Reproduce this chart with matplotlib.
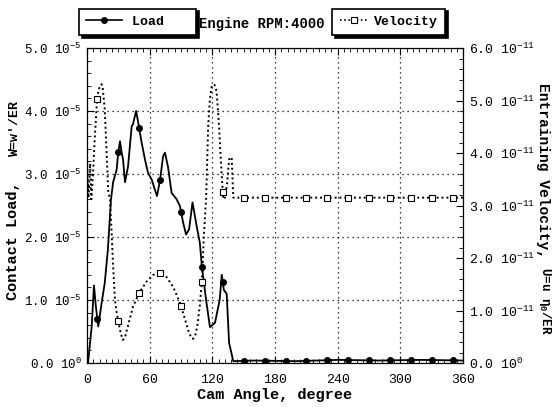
"""Contact load and entraining velocity against cam angle."""
import matplotlib
matplotlib.use("Agg")
import matplotlib.pyplot as plt
import numpy as np
from matplotlib.lines import Line2D
from matplotlib.ticker import FuncFormatter, MultipleLocator

plt.rcParams["font.family"] = "Liberation Mono"
plt.rcParams["mathtext.fontset"] = "custom"
plt.rcParams["mathtext.rm"] = "Liberation Mono"
plt.rcParams["mathtext.it"] = "Liberation Mono:italic"
plt.rcParams["mathtext.bf"] = "Liberation Mono:bold"

# contact load, units of 1e-5
load_deg = [0, 1, 4.5, 6.7, 8.5, 10.8, 14, 17, 20, 23, 25, 28.4, 29.9, 31.6, 33,
            34.5, 36.4, 39.3, 42.8, 44, 47, 49, 52.3, 55.5, 58.4, 62, 65, 67, 70,
            72.8, 74.6, 77.5, 81, 85.8, 89, 92, 94.8, 97.7, 101, 105, 108, 110,
            114, 117.7, 122.5, 127, 129, 131, 133.7, 136, 140, 160, 200, 240,
            280, 320, 360]
load_val = [0, 0, 0.58, 1.23, 0.9, 0.58, 0.95, 1.27, 1.8, 2.6, 2.87, 3.07, 3.34,
            3.52, 3.36, 3.23, 2.87, 3.12, 3.76, 3.79, 4.0, 3.82, 3.5, 3.23, 3.02,
            2.91, 2.75, 2.65, 2.91, 3.28, 3.34, 3.12, 2.7, 2.6, 2.49, 2.23, 2.04,
            2.12, 2.55, 2.17, 1.91, 1.53, 1.0, 0.57, 0.64, 1.0, 1.4, 1.16, 1.1,
            0.32, 0.03, 0.04, 0.03, 0.05, 0.04, 0.05, 0.04]

# entraining velocity, units of 1e-11
vel_deg = [0, 1.5, 3, 4.2, 6, 7.5, 9.3, 11, 13, 14, 15, 17, 18.8, 20.4, 22, 23.6,
           25, 26.8, 28.5, 30.6, 32.5, 34.5, 36.5, 39, 44, 50, 57, 63.5, 69, 76,
           82.5, 89, 94, 98, 101.5, 104, 106, 108, 110, 112, 114, 116, 117.5,
           119.4, 122, 124, 126.4, 128, 129.5, 130.5, 132, 134, 136, 138.5, 140,
           360]
vel_val = [3.88, 3.15, 3.8, 3.12, 3.7, 4.3, 4.9, 5.2, 5.3, 5.31, 5.25, 4.84, 4.0,
           3.25, 3.12, 2.48, 1.84, 1.2, 0.95, 0.73, 0.55, 0.44, 0.5, 0.69, 1.07,
           1.34, 1.55, 1.68, 1.72, 1.64, 1.45, 1.15, 0.82, 0.55, 0.46, 0.55, 0.76,
           1.1, 1.55, 2.48, 3.12, 4.51, 5.0, 5.28, 5.3, 5.18, 4.51, 3.9, 3.4,
           3.12, 3.15, 3.4, 3.88, 3.92, 3.15, 3.15]

marker_deg = np.arange(10, 360, 20)

load_deg = np.array(load_deg)
load = np.array(load_val) * 1e-5
vel_deg = np.array(vel_deg)
vel = np.array(vel_val) * 1e-11

fig = plt.figure(figsize=(5.54, 4.07), dpi=100)
ax = fig.add_axes([0.157, 0.108, 0.679, 0.774])
ax2 = ax.twinx()

ax.plot(load_deg, load, color="black", lw=1.3)
ax.plot(marker_deg, np.interp(marker_deg, load_deg, load), "o", color="black", ms=4)

ax2.plot(vel_deg, vel, color="black", lw=1.4, ls=(0, (1, 1.5)))
ax2.plot(marker_deg, np.interp(marker_deg, vel_deg, vel), "s", mfc="white",
         mec="black", ms=4, mew=0.8)

ax.set_xlim(0, 360)
ax.set_ylim(0, 5e-5)
ax2.set_ylim(0, 6e-11)
ax.xaxis.set_major_locator(MultipleLocator(60))
ax.xaxis.set_minor_locator(MultipleLocator(6))
ax.yaxis.set_major_locator(MultipleLocator(1e-5))
ax.yaxis.set_minor_locator(MultipleLocator(0.2e-5))
ax2.yaxis.set_major_locator(MultipleLocator(1e-11))
ax2.yaxis.set_minor_locator(MultipleLocator(0.2e-11))


def sci_label(exp):
    def fmt(v, pos):
        if abs(v) < 1e-30:
            return r"0.0 $\mathregular{10^{0}}$"
        return r"%.1f $\mathregular{10^{%d}}$" % (v / 10.0 ** exp, exp)
    return FuncFormatter(fmt)


ax.yaxis.set_major_formatter(sci_label(-5))
ax2.yaxis.set_major_formatter(sci_label(-11))
for a in (ax, ax2):
    a.xaxis.get_offset_text().set_visible(False)
    a.yaxis.get_offset_text().set_visible(False)

ax.tick_params(which="both", direction="in", top=True, right=False, labelsize=9)
ax.tick_params(which="major", length=5, pad=4)
ax.tick_params(axis="x", which="major", pad=8, labelsize=9.5)
ax.tick_params(which="minor", length=3)
ax2.tick_params(which="both", direction="in", labelsize=9.5)
ax2.tick_params(which="major", length=5, pad=4)
ax2.tick_params(which="minor", length=3)

ax.grid(True, which="major", color="black", ls=(0, (1, 3)), lw=0.9)

ax.set_xlabel("Cam Angle, degree", fontsize=11, fontweight="bold", labelpad=1)

# axis titles placed by hand, each in two sizes
ax.text(-0.197, 0.2, "Contact Load,", transform=ax.transAxes, rotation=90,
        ha="center", va="bottom", fontsize=11, fontweight="bold")
ax.text(-0.192, 0.835, "W=w'/ER", transform=ax.transAxes, rotation=90,
        ha="center", va="top", fontsize=9.5, fontweight="bold")
ax2.text(1.213, 0.889, "Entraining Velocity,", transform=ax2.transAxes,
         rotation=-90, ha="center", va="top", fontsize=10.5, fontweight="bold")
ax2.text(1.218, 0.305, r"U=u $\mathregular{\eta_0}$/ER", transform=ax2.transAxes,
         rotation=-90, ha="center", va="top", fontsize=9, fontweight="bold")

# legend boxes on either side of the title
shadow = {"color": "black", "alpha": 1}
h_load = Line2D([], [], color="black", lw=1.2, marker="o", ms=4)
h_vel = Line2D([], [], color="black", lw=1.2, ls=(0, (1, 1.5)), marker="s",
               mfc="white", ms=4, mew=0.8)
leg1 = fig.legend([h_load], ["Load   "], loc="center", bbox_to_anchor=(0.248, 0.946),
                  fancybox=False, shadow=shadow, edgecolor="black", framealpha=1,
                  prop={"weight": "bold", "size": 9.5}, handlelength=2.7,
                  borderpad=0.55, handletextpad=0.8)
leg1.get_frame().set_linewidth(1.2)
leg2 = fig.legend([h_vel], ["Velocity"], loc="center", bbox_to_anchor=(0.702, 0.946),
                  fancybox=False, shadow=shadow, edgecolor="black", framealpha=1,
                  prop={"weight": "bold", "size": 9.5}, handlelength=2.2,
                  borderpad=0.55, handletextpad=0.4)
leg2.get_frame().set_linewidth(1.2)
fig.text(0.472, 0.94, "Engine RPM:4000", ha="center", va="center",
         fontsize=10, fontweight="bold")

fig.savefig("out.png", dpi=100)
